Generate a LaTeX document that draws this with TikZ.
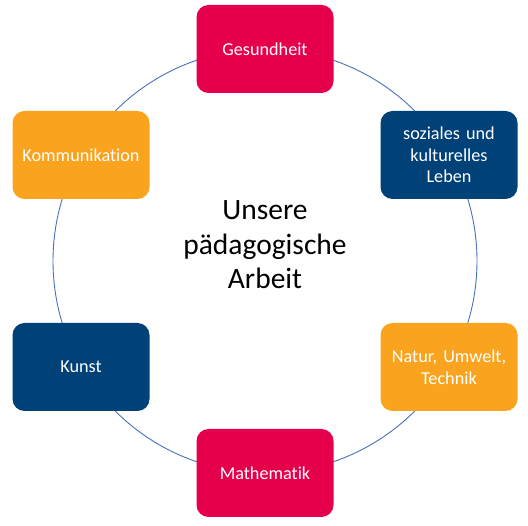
\documentclass[tikz,border=0pt]{standalone}
\usepackage{fontspec}
\setmainfont{Carlito}[Ligatures={NoCommon}]
\definecolor{cred}{RGB}{230,0,76}
\definecolor{cnavy}{RGB}{0,65,120}
\definecolor{corange}{RGB}{249,163,30}
\definecolor{cline}{RGB}{70,114,190}
\begin{document}
\begin{tikzpicture}[x=1pt,y=-1pt,
  box/.style={rounded corners=12pt,minimum width=137pt,minimum height=88pt,
    text=white,align=center,font=\fontsize{18.2}{21.5}\selectfont,inner sep=2pt,text width=132pt},
  redbox/.style={box,fill=cred},
  navybox/.style={box,fill=cnavy},
  orangebox/.style={box,fill=corange}]
\useasboundingbox (0,0) rectangle (528,526);
\coordinate (c) at (265,261);
\draw[cline,line width=0.9pt] (c) circle[radius=212];
\node[redbox] (g) at (265,49) {Gesundheit};
\node[navybox] (s) at (449,155) {soziales und\\kulturelles\\Leben};
\node[orangebox] (n) at (449,367) {Natur, Umwelt,\\Technik};
\node[redbox] (m) at (265,473) {Mathematik};
\node[navybox] (k) at (81,367) {Kunst};
\node[orangebox] (ko) at (81,155) {Kommunikation};
\node[align=center,font=\fontsize{29.5}{34.5}\selectfont] (t) at (265,245) {Unsere\\pädagogische\\Arbeit};
\end{tikzpicture}
\end{document}
